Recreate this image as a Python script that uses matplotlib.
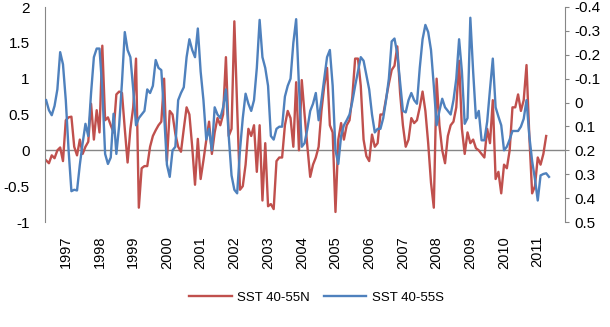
import matplotlib
matplotlib.use("Agg")
import matplotlib.pyplot as plt
import numpy as np

plt.rcParams['font.family'] = ['Liberation Sans', 'DejaVu Sans']

# Monthly series starting June 1996 (index 0)
years = [str(y) for y in range(1997, 2012)]
first_jan_index = 7

sst_n = [-0.14, -0.18, -0.07, -0.11, 0.0, 0.04, -0.15, 0.42, 0.46, 0.47,
         0.05, -0.07, 0.15, -0.05, 0.05, 0.12, 0.65, 0.15, 0.56, 0.25,
         1.46, 0.42, 0.46, 0.35, 0.25, 0.78, 0.82, 0.8, 0.3, -0.17,
         0.3, 0.6, 1.28, -0.8, -0.25, -0.22, -0.22, 0.05, 0.2, 0.28,
         0.35, 0.4, 1.0, -0.15, 0.55, 0.5, 0.23, 0.05, -0.02, 0.3,
         0.6, 0.5, 0.05, -0.48, 0.16, -0.4, -0.14, 0.14, 0.4, -0.05,
         0.25, 0.45, 0.35, 0.5, 1.3, 0.2, 0.3, 1.8, 0.6, -0.55,
         -0.5, -0.2, 0.3, 0.2, 0.35, -0.3, 0.35, -0.7, 0.1, -0.78,
         -0.75, -0.82, -0.15, -0.1, -0.1, 0.35, 0.55, 0.45, 0.05, 0.95,
         0.0, 0.98, 0.5, 0.05, -0.37, -0.2, -0.1, 0.05, 0.55, 0.9,
         1.15, 0.35, 0.25, -0.86, 0.15, 0.38, 0.15, 0.35, 0.42, 0.75,
         1.28, 1.28, 0.9, 0.15, -0.08, -0.15, 0.22, 0.05, 0.1, 0.5,
         0.5, 0.72, 0.93, 1.12, 1.18, 1.45, 0.8, 0.35, 0.05, 0.15,
         0.45, 0.38, 0.42, 0.6, 0.82, 0.55, 0.1, -0.45, -0.8, 1.0,
         0.35, 0.0, -0.18, 0.2, 0.35, 0.4, 0.6, 1.25, 0.3, -0.05,
         0.25, 0.1, 0.15, 0.03, 0.0, -0.05, -0.1, 0.3, 0.1, 0.7,
         -0.4, -0.3, -0.6, -0.2, -0.25, 0.0, 0.6, 0.6, 0.78, 0.55,
         0.7, 1.19, 0.2, -0.6, -0.5, -0.1, -0.2, -0.05, 0.2]

sst_s = [-0.01, 0.032, 0.053, 0.014, -0.055, -0.211, -0.16, -0.01, 0.2, 0.371,
         0.365, 0.368, 0.26, 0.17, 0.089, 0.14, -0.04, -0.19, -0.226, -0.226,
         -0.055, 0.215, 0.257, 0.23, 0.047, 0.215, 0.095, -0.085, -0.295, -0.22,
         -0.19, -0.055, 0.095, 0.065, 0.05, 0.035, -0.055, -0.04, -0.07, -0.178,
         -0.145, -0.136, 0.05, 0.26, 0.311, 0.2, 0.185, -0.01, -0.04, -0.064,
         -0.19, -0.265, -0.22, -0.19, -0.31, -0.13, -0.01, 0.155, 0.11, 0.2,
         0.02, 0.05, 0.065, 0.02, -0.055, 0.14, 0.305, 0.365, 0.38, 0.2,
         0.065, -0.037, 0.005, 0.035, -0.01, -0.145, -0.346, -0.19, -0.145, -0.07,
         0.14, 0.155, 0.11, 0.101, 0.101, -0.025, -0.07, -0.1, -0.25, -0.349,
         -0.07, 0.185, 0.17, 0.11, 0.035, 0.005, -0.04, 0.074, -0.01, -0.1,
         -0.19, -0.22, -0.07, 0.2, 0.257, 0.14, 0.095, 0.074, 0.05, -0.004,
         -0.07, -0.13, -0.19, -0.175, -0.115, -0.055, 0.05, 0.125, 0.11, 0.11,
         0.065, -0.01, -0.1, -0.256, -0.268, -0.205, -0.085, 0.035, 0.041, -0.01,
         -0.04, -0.01, 0.005, -0.145, -0.265, -0.325, -0.295, -0.22, -0.07, 0.095,
         0.035, -0.016, 0.02, 0.035, 0.05, -0.01, -0.1, -0.265, -0.13, 0.089,
         0.065, -0.355, -0.13, 0.065, 0.035, 0.158, 0.158, 0.08, -0.055, -0.184,
         0.02, 0.059, 0.095, 0.2, 0.185, 0.155, 0.119, 0.119, 0.119, 0.101,
         0.068, -0.01, 0.14, 0.245, 0.32, 0.41, 0.305, 0.299, 0.296, 0.311]

left_ticks = [-1, -0.5, 0, 0.5, 1, 1.5, 2]
left_labels = ["-1", "-0.5", "0", "0.5", "1", "1.5", "2"]
right_ticks = [-0.4, -0.3, -0.2, -0.1, 0, 0.1, 0.2, 0.3, 0.4, 0.5]
right_labels = ["-0.4", "-0.3", "-0.2", "-0.1", "0", "0.1", "0.2", "0.3", "0.4", "0.5"]

red = "#C0504D"
blue = "#4F81BD"
gray = "#868686"

fig = plt.figure(figsize=(6.1, 3.27), dpi=100)
ax = fig.add_axes([45/610, 1-222/327, 520/610, 215/327])
ax2 = ax.twinx()

xn = np.arange(len(sst_n))
xs = np.arange(len(sst_s))
ln1, = ax.plot(xn, sst_n, color=red, lw=1.7, label="SST 40-55N")
ln2, = ax2.plot(xs, sst_s, color=blue, lw=1.7, label="SST 40-55S")

ax.axhline(0, color=gray, lw=1, zorder=0)
ax.set_xlim(-0.4, 184.7)
ax.set_ylim(-1, 2)
ax2.set_ylim(0.5, -0.4)

ax.set_yticks(left_ticks)
ax.set_yticklabels(left_labels)
ax2.set_yticks(right_ticks)
ax2.set_yticklabels(right_labels)

ax.set_xticks([first_jan_index + 12*k for k in range(len(years))])
ax.set_xticklabels(years, rotation=90)

for a in (ax, ax2):
    for s in ("top", "bottom"):
        a.spines[s].set_visible(False)
ax.spines["right"].set_visible(False)
ax.spines["left"].set_color(gray)
ax2.spines["left"].set_visible(False)
ax2.spines["right"].set_color(gray)

ax.tick_params(axis='y', length=0, pad=11, labelsize=11)
ax.tick_params(axis='x', length=0, pad=10, labelsize=10.5)
ax2.tick_params(axis='y', length=3, color=gray, pad=4, labelsize=11)

fig.legend([ln1, ln2], ["SST 40-55N", "SST 40-55S"], loc="center",
           bbox_to_anchor=(0.519, 0.089), ncol=2, frameon=False, fontsize=9.5,
           handlelength=3.2, columnspacing=1.1, handletextpad=0.4)

fig.savefig("out.png", dpi=100)
